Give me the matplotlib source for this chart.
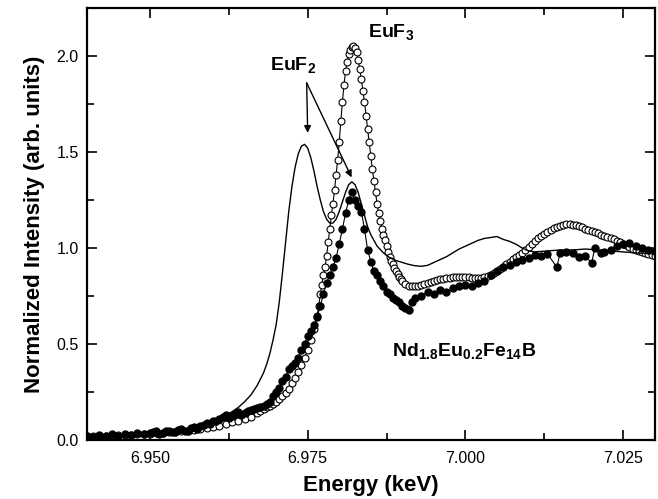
import matplotlib
matplotlib.use("Agg")
import matplotlib.pyplot as plt
from matplotlib.ticker import MultipleLocator, FormatStrFormatter

plt.rcParams["font.family"] = ["Liberation Sans", "DejaVu Sans"]
plt.rcParams["mathtext.fontset"] = "custom"
plt.rcParams["mathtext.rm"] = "Liberation Sans"
plt.rcParams["mathtext.bf"] = "Liberation Sans:bold"

# EuF2 reference (solid line)
euf2_e = [6.940, 6.945, 6.950, 6.953, 6.956, 6.958, 6.960, 6.961, 6.962, 6.963,
          6.964, 6.965, 6.966, 6.967, 6.968, 6.9685, 6.969, 6.9695, 6.970, 6.9705,
          6.971, 6.9715, 6.972, 6.9725, 6.973, 6.9735, 6.974, 6.9745, 6.975, 6.9755,
          6.976, 6.9765, 6.977, 6.9775, 6.978, 6.9785, 6.979, 6.9795, 6.980, 6.9805,
          6.981, 6.9815, 6.982, 6.9825, 6.983, 6.9835, 6.984, 6.9845, 6.985, 6.9855,
          6.986, 6.987, 6.988, 6.989, 6.990, 6.991, 6.992, 6.993, 6.994, 6.995,
          6.996, 6.997, 6.998, 6.999, 7.000, 7.001, 7.002, 7.003, 7.004, 7.005,
          7.006, 7.007, 7.008, 7.009, 7.010, 7.011, 7.013, 7.015, 7.017, 7.019,
          7.021, 7.023, 7.025, 7.027, 7.030]
euf2_i = [0.010, 0.020, 0.030, 0.040, 0.055, 0.073, 0.095, 0.110, 0.128, 0.148,
          0.170, 0.200, 0.235, 0.285, 0.350, 0.395, 0.450, 0.520, 0.600, 0.720,
          0.870, 1.030, 1.190, 1.320, 1.420, 1.490, 1.530, 1.540, 1.520, 1.470,
          1.400, 1.320, 1.250, 1.190, 1.150, 1.130, 1.130, 1.150, 1.190, 1.240,
          1.290, 1.330, 1.345, 1.330, 1.290, 1.230, 1.170, 1.110, 1.070, 1.040,
          1.010, 0.975, 0.950, 0.935, 0.925, 0.915, 0.908, 0.905, 0.910, 0.925,
          0.940, 0.955, 0.975, 0.995, 1.010, 1.025, 1.040, 1.050, 1.055, 1.060,
          1.045, 1.035, 1.020, 1.000, 0.985, 0.980, 0.985, 0.990, 0.990, 0.995,
          0.990, 0.985, 0.980, 0.975, 0.970]

# EuF3 reference (open circles)
euf3_e = [6.940, 6.941, 6.942, 6.943, 6.944, 6.945, 6.946, 6.947, 6.948, 6.949,
          6.950, 6.951, 6.952, 6.953, 6.954, 6.955, 6.956, 6.957, 6.958, 6.959,
          6.960, 6.961, 6.962, 6.963, 6.964, 6.965, 6.966, 6.967, 6.9675, 6.968,
          6.9685, 6.969, 6.9695, 6.970, 6.9705, 6.971, 6.9715, 6.972, 6.9725, 6.973,
          6.9735, 6.974, 6.9745, 6.975, 6.9755, 6.976, 6.9765, 6.97675, 6.977, 6.97725,
          6.9775, 6.97775, 6.978, 6.97825, 6.9785, 6.97875, 6.979, 6.97925, 6.9795, 6.97975,
          6.980, 6.98025, 6.9805, 6.98075, 6.981, 6.98125, 6.9815, 6.98175, 6.982, 6.98225,
          6.9825, 6.98275, 6.983, 6.98325, 6.9835, 6.98375, 6.984, 6.98425, 6.9845, 6.98475,
          6.985, 6.98525, 6.9855, 6.98575, 6.986, 6.98625, 6.9865, 6.98675, 6.987, 6.98725,
          6.9875, 6.98775, 6.988, 6.98825, 6.9885, 6.98875, 6.989, 6.98925, 6.9895, 6.98975,
          6.990, 6.9905, 6.991, 6.9915, 6.992, 6.9925, 6.993, 6.9935, 6.994, 6.9945,
          6.995, 6.9955, 6.996, 6.9965, 6.997, 6.9975, 6.998, 6.9985, 6.999, 6.9995,
          7.000, 7.0005, 7.001, 7.0015, 7.002, 7.0025, 7.003, 7.0035, 7.004, 7.0045,
          7.005, 7.0055, 7.006, 7.0065, 7.007, 7.0075, 7.008, 7.0085, 7.009, 7.0095,
          7.010, 7.0105, 7.011, 7.0115, 7.012, 7.0125, 7.013, 7.0135, 7.014, 7.0145,
          7.015, 7.0155, 7.016, 7.0165, 7.017, 7.0175, 7.018, 7.0185, 7.019, 7.0195,
          7.020, 7.0205, 7.021, 7.0215, 7.022, 7.0225, 7.023, 7.0235, 7.024, 7.0245,
          7.025, 7.0255, 7.026, 7.0265, 7.027, 7.0275, 7.028, 7.0285, 7.029, 7.0295,
          7.030]
euf3_i = [0.020, 0.020, 0.022, 0.023, 0.025, 0.026, 0.028, 0.029, 0.030, 0.032,
          0.034, 0.036, 0.038, 0.040, 0.043, 0.046, 0.050, 0.054, 0.058, 0.063,
          0.069, 0.075, 0.085, 0.092, 0.100, 0.108, 0.118, 0.140, 0.150, 0.160,
          0.170, 0.178, 0.190, 0.200, 0.215, 0.228, 0.245, 0.265, 0.295, 0.325,
          0.355, 0.390, 0.430, 0.470, 0.520, 0.580, 0.645, 0.700, 0.760, 0.810,
          0.860, 0.900, 0.960, 1.030, 1.100, 1.170, 1.230, 1.300, 1.380, 1.460,
          1.550, 1.660, 1.760, 1.850, 1.920, 1.970, 2.010, 2.030, 2.045, 2.050,
          2.040, 2.020, 1.980, 1.930, 1.880, 1.820, 1.760, 1.690, 1.620, 1.550,
          1.480, 1.410, 1.350, 1.290, 1.230, 1.180, 1.140, 1.100, 1.070, 1.040,
          1.010, 0.980, 0.955, 0.935, 0.915, 0.895, 0.880, 0.865, 0.850, 0.840,
          0.830, 0.815, 0.805, 0.800, 0.800, 0.805, 0.810, 0.815, 0.820, 0.825,
          0.830, 0.835, 0.840, 0.840, 0.845, 0.845, 0.850, 0.850, 0.850, 0.850,
          0.850, 0.850, 0.845, 0.845, 0.845, 0.845, 0.850, 0.855, 0.860, 0.870,
          0.880, 0.890, 0.900, 0.915, 0.930, 0.945, 0.955, 0.965, 0.975, 0.990,
          1.005, 1.020, 1.035, 1.050, 1.065, 1.075, 1.085, 1.095, 1.105, 1.110,
          1.115, 1.120, 1.125, 1.125, 1.120, 1.120, 1.115, 1.110, 1.100, 1.095,
          1.090, 1.085, 1.080, 1.070, 1.065, 1.055, 1.050, 1.045, 1.035, 1.030,
          1.020, 1.015, 1.005, 0.995, 0.990, 0.985, 0.980, 0.975, 0.970, 0.965,
          0.960]

# Nd1.8Eu0.2Fe14B sample (filled dots)
nd_e = [6.940, 6.941, 6.942, 6.943, 6.944, 6.945, 6.946, 6.947, 6.948, 6.949,
        6.950, 6.9505, 6.951, 6.9515, 6.952, 6.9525, 6.953, 6.9535, 6.954, 6.9545,
        6.955, 6.9555, 6.956, 6.9565, 6.957, 6.9575, 6.958, 6.9585, 6.959, 6.9595,
        6.960, 6.9605, 6.961, 6.9615, 6.962, 6.9625, 6.963, 6.9635, 6.964, 6.9645,
        6.965, 6.9655, 6.966, 6.9665, 6.967, 6.9675, 6.968, 6.9685, 6.969,
        6.9695, 6.970, 6.9705, 6.971, 6.9715, 6.972, 6.9725, 6.973, 6.9735, 6.974,
        6.9745, 6.975, 6.9755, 6.976, 6.9765, 6.977, 6.9775, 6.978, 6.9785, 6.979,
        6.9795, 6.980, 6.9805, 6.981, 6.9815, 6.982, 6.9825, 6.983, 6.9835, 6.984,
        6.9845, 6.985, 6.9855, 6.986, 6.9865, 6.987, 6.9875, 6.988, 6.9885, 6.989,
        6.9895, 6.990, 6.9905, 6.991, 6.9915, 6.992, 6.993, 6.994, 6.995, 6.996,
        6.997, 6.998, 6.999, 7.000, 7.001, 7.002, 7.003, 7.004, 7.005, 7.006,
        7.007, 7.008, 7.009, 7.010, 7.011, 7.012, 7.013, 7.0145, 7.015, 7.016,
        7.017, 7.018, 7.019, 7.020, 7.0205, 7.0215, 7.022, 7.023, 7.024, 7.025,
        7.026, 7.027, 7.028, 7.029, 7.030]
nd_i = [0.020, 0.015, 0.025, 0.020, 0.030, 0.022, 0.030, 0.025, 0.035, 0.030,
        0.035, 0.040, 0.045, 0.030, 0.035, 0.045, 0.050, 0.040, 0.040, 0.055,
        0.060, 0.050, 0.050, 0.065, 0.070, 0.060, 0.075, 0.080, 0.090, 0.085,
        0.100, 0.100, 0.110, 0.120, 0.130, 0.115, 0.125, 0.135, 0.145, 0.130,
        0.140, 0.150, 0.155, 0.160, 0.165, 0.175, 0.180, 0.190, 0.200,
        0.230, 0.250, 0.270, 0.310, 0.330, 0.370, 0.385, 0.400, 0.430, 0.470,
        0.500, 0.540, 0.570, 0.600, 0.640, 0.700, 0.760, 0.820, 0.860, 0.900,
        0.950, 1.020, 1.100, 1.180, 1.250, 1.290, 1.250, 1.220, 1.190, 1.100,
        0.990, 0.930, 0.880, 0.860, 0.830, 0.800, 0.770, 0.760, 0.740, 0.730,
        0.720, 0.700, 0.690, 0.680, 0.720, 0.740, 0.750, 0.770, 0.760, 0.780,
        0.770, 0.790, 0.800, 0.810, 0.800, 0.820, 0.830, 0.860, 0.880, 0.900,
        0.910, 0.930, 0.940, 0.950, 0.965, 0.960, 0.970, 0.900, 0.975, 0.980,
        0.975, 0.955, 0.960, 0.920, 1.000, 0.975, 0.980, 0.990, 1.010, 1.020,
        1.025, 1.010, 1.000, 0.990, 0.985]

fig, ax = plt.subplots(figsize=(6.58, 4.99), dpi=100)
fig.subplots_adjust(left=0.132, right=0.995, bottom=0.118, top=0.984)

ax.plot(euf3_e, euf3_i, color="black", lw=0.8, marker="o", markersize=5,
        markerfacecolor="white", markeredgecolor="black", markeredgewidth=0.8)
ax.plot(nd_e, nd_i, color="black", lw=0.8, marker="o", markersize=5,
        markerfacecolor="black", markeredgecolor="black")
ax.plot(euf2_e, euf2_i, color="black", lw=1.0)

ax.set_xlim(6.940, 7.030)
ax.set_ylim(0.0, 2.25)
ax.xaxis.set_major_locator(MultipleLocator(0.025))
ax.xaxis.set_minor_locator(MultipleLocator(0.0125))
ax.yaxis.set_major_locator(MultipleLocator(0.5))
ax.yaxis.set_minor_locator(MultipleLocator(0.25))
ax.xaxis.set_major_formatter(FormatStrFormatter("%.3f"))
ax.yaxis.set_major_formatter(FormatStrFormatter("%.1f"))
ax.tick_params(which="both", direction="in", top=True, right=True, width=1.2,
               labelsize=11.5)
ax.tick_params(which="major", length=7)
ax.tick_params(which="minor", length=5)
ax.tick_params(axis="x", pad=8)
ax.tick_params(axis="y", pad=6)
for s in ax.spines.values():
    s.set_linewidth(1.6)

ax.set_xlabel("Energy (keV)", fontsize=16, fontweight="bold", labelpad=6)
ax.set_ylabel("Normalized Intensity (arb. units)", fontsize=16,
              fontweight="bold", labelpad=8)

ax.text(6.9690, 1.925, r"EuF$_\mathbf{2}$", fontsize=14, fontweight="bold",
        ha="left", va="baseline")
ax.text(6.9845, 2.093, r"EuF$_\mathbf{3}$", fontsize=14, fontweight="bold",
        ha="left", va="baseline")
ax.text(6.9884, 0.435, r"Nd$_\mathbf{1.8}$Eu$_\mathbf{0.2}$Fe$_\mathbf{14}$B",
        fontsize=14, fontweight="bold", ha="left", va="baseline")

arrow = dict(arrowstyle="-|>", color="black", lw=1.0, mutation_scale=10,
             shrinkA=0, shrinkB=0)
ax.annotate("", xy=(6.9750, 1.60), xytext=(6.97484, 1.86), arrowprops=arrow)
ax.annotate("", xy=(6.98196, 1.368), xytext=(6.97484, 1.86), arrowprops=arrow)

fig.savefig("out.png", dpi=100)
